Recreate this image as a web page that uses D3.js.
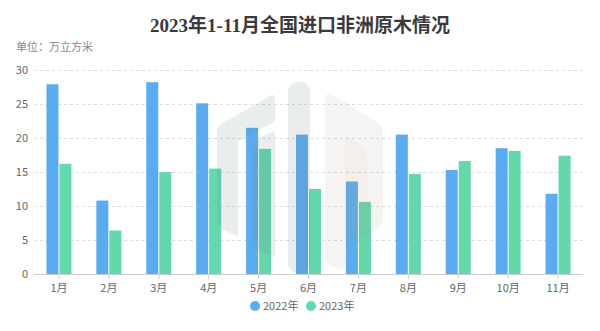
<!DOCTYPE html>
<html>
<head>
<meta charset="utf-8">
<script src="https://cdn.jsdelivr.net/npm/d3@7"></script>
<style>
  html, body { margin: 0; padding: 0; background: #fff; }
  svg { display: block; }
</style>
</head>
<body>
<svg id="chart" width="600" height="331"></svg>
<script>
// Monthly log imports from Africa, 10k m³
const months = ["1月", "2月", "3月", "4月", "5月", "6月", "7月", "8月", "9月", "10月", "11月"];
const series2022 = [27.9, 10.8, 28.2, 25.1, 21.5, 20.5, 13.6, 20.5, 15.3, 18.5, 11.8];
const series2023 = [16.2, 6.4, 15.0, 15.5, 18.4, 12.5, 10.6, 14.7, 16.6, 18.1, 17.4];
const seriesNames = ["2022年", "2023年"];
const yTicks = [0, 5, 10, 15, 20, 25, 30];

const colors = ["#59acf1", "#62d8ab"];
const W = 600, H = 331;
const margin = { left: 34, right: 17, top: 70, bottom: 57 };

const svg = d3.select("#chart");
const font = "'Noto Sans CJK SC', 'Noto Sans', sans-serif";

const x = d3.scaleBand().domain(months).range([margin.left, W - margin.right]);
const y = d3.scaleLinear().domain([0, 30]).range([H - margin.bottom, margin.top]);

// Title and unit
svg.append("text")
  .attr("x", 300).attr("y", 32)
  .attr("text-anchor", "middle")
  .attr("font-family", "'Liberation Serif', 'Noto Sans CJK SC', serif")
  .attr("font-weight", "bold")
  .attr("font-size", 19)
  .attr("fill", "#3a3a3a")
  .text("2023年1-11月全国进口非洲原木情况");

svg.append("text")
  .attr("x", 16).attr("y", 51)
  .attr("font-family", font)
  .attr("font-size", 11)
  .attr("fill", "#888")
  .text("单位：万立方米");

// Grid lines
svg.append("g")
  .selectAll("line")
  .data(yTicks.filter(d => d > 0))
  .join("line")
  .attr("x1", margin.left).attr("x2", W - margin.right)
  .attr("y1", d => Math.round(y(d)) + 0.5).attr("y2", d => Math.round(y(d)) + 0.5)
  .attr("stroke", "#dcdcdc")
  .attr("stroke-dasharray", "3,3");

// Y axis labels
const yAxis = svg.append("g")
  .attr("transform", `translate(${margin.left},0)`)
  .call(d3.axisLeft(y).tickValues(yTicks).tickSize(0).tickPadding(6));
yAxis.select(".domain").remove();
yAxis.selectAll("text")
  .attr("font-family", font).attr("font-size", 11).attr("fill", "#666");

// X axis
const xAxis = svg.append("g")
  .attr("transform", `translate(0,${y(0)})`)
  .call(d3.axisBottom(x).tickSize(5).tickPadding(5));
xAxis.select(".domain").attr("stroke", "#ccc").attr("d", `M${margin.left},0.5H${W - margin.right}`);
xAxis.selectAll(".tick line").attr("stroke", "#ccc");
xAxis.selectAll("text")
  .attr("font-family", font).attr("font-size", 11).attr("fill", "#666");

// Bars
const barW = 12, gap = 1;
const groups = [series2022, series2023];
groups.forEach((vals, si) => {
  svg.append("g")
    .selectAll("rect")
    .data(vals)
    .join("rect")
    .attr("x", (d, i) => x(months[i]) + x.bandwidth() / 2 + (si === 0 ? -barW - gap / 2 : gap / 2))
    .attr("width", barW)
    .attr("y", d => y(d))
    .attr("height", d => y(0) - y(d))
    .attr("fill", colors[si]);
});

// Watermark logo
const wm = svg.append("g").attr("pointer-events", "none");
const cool = "rgba(110,135,135,0.15)";
const warm = "rgba(170,155,140,0.11)";
wm.append("path")
  .attr("d", "M217,132 Q217,126 223,123 L270,96 Q275,93 275,99 L275,121 L238,142 L238,237 L223,229 Q217,225 217,218 Z")
  .attr("fill", cool);
wm.append("path")
  .attr("d", "M252,150 Q252,141 261,137 L275,131 L275,257 L262,252 Q252,248 252,238 Z")
  .attr("fill", cool);
wm.append("rect")
  .attr("x", 288).attr("y", 82).attr("width", 22).attr("height", 191).attr("rx", 9)
  .attr("fill", cool);
wm.append("path")
  .attr("d", "M325,100 Q325,91 333,95 L376,121 Q383,125 383,133 L383,218 Q383,226 376,230 L345,249 L345,264 Q345,272 336,268 L325,262 Z")
  .attr("fill", warm);
wm.append("path")
  .attr("d", "M345,135 L362,145 Q367,149 367,156 L367,225 L345,238 Z")
  .attr("fill", "rgba(170,155,140,0.05)");

// Legend
const legend = svg.append("g");
const legendX = [255, 311];
seriesNames.forEach((name, i) => {
  legend.append("circle")
    .attr("cx", legendX[i]).attr("cy", 306).attr("r", 5)
    .attr("fill", colors[i]);
  legend.append("text")
    .attr("x", legendX[i] + 8).attr("y", 310)
    .attr("font-family", font).attr("font-size", 11).attr("fill", "#666")
    .text(name);
});
</script>
</body>
</html>
